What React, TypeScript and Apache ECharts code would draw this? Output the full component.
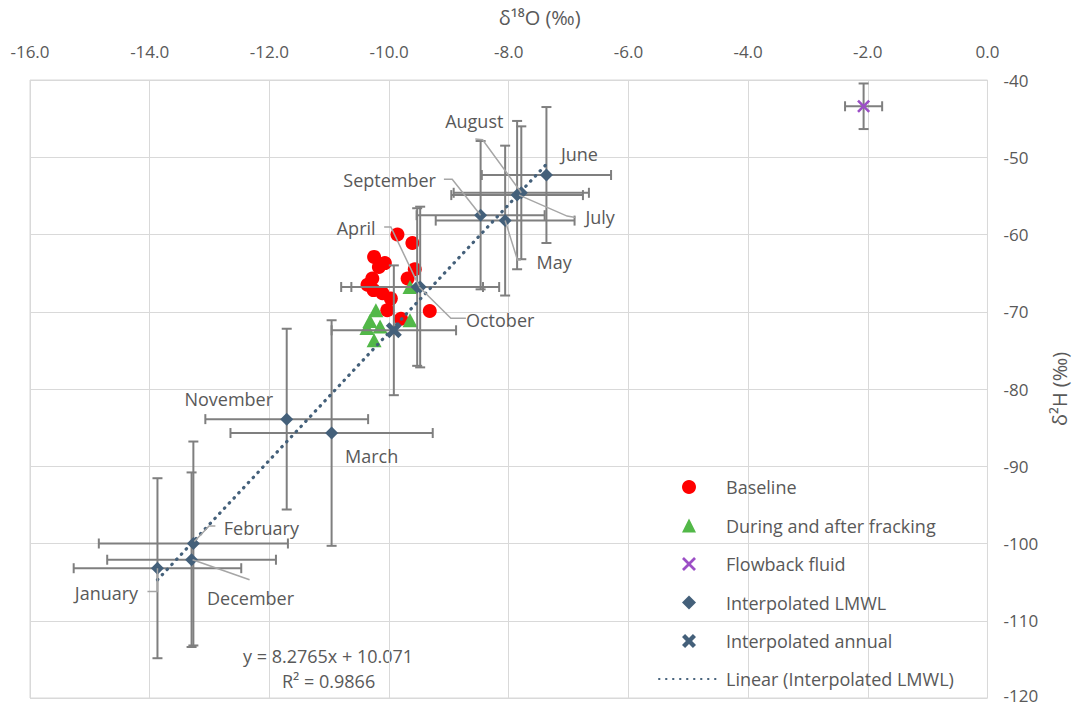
import React, { useEffect, useRef } from "react";
import * as echarts from "echarts";

// ---------- data ----------
const months = ["January", "February", "March", "April", "May", "June", "July", "August", "September", "October", "November", "December"];
const lmwlO18 = [-13.87, -13.27, -10.96, -9.48, -8.06, -7.37, -7.86, -7.79, -8.47, -9.53, -11.71, -13.30];
const lmwlH2 = [-103.2, -100.0, -85.7, -66.8, -58.2, -52.3, -54.9, -54.6, -57.5, -66.8, -83.9, -102.1];
const lmwlO18Err = [1.40, 1.58, 1.69, 1.32, 1.16, 1.08, 1.10, 1.13, 1.07, 1.10, 1.36, 1.41];
const lmwlH2Err = [11.65, 13.2, 14.6, 10.4, 9.7, 8.8, 9.6, 8.6, 9.6, 10.2, 11.7, 11.3];

const baselineO18 = [-9.86, -9.61, -10.25, -10.07, -10.17, -9.57, -9.69, -10.28, -10.36, -10.26, -10.11, -9.97, -10.03, -9.32, -9.80];
const baselineH2 = [-60.0, -61.1, -62.9, -63.7, -64.2, -64.5, -65.7, -65.7, -66.5, -67.2, -67.6, -68.3, -69.8, -69.9, -70.9];

const fracO18 = [-9.65, -10.22, -10.32, -10.15, -9.65, -10.25, -10.37];
const fracH2 = [-66.8, -69.8, -71.2, -71.9, -71.1, -73.7, -72.1];

const flowbackO18 = [-2.07];
const flowbackH2 = [-43.4];
const flowbackO18Err = [0.31];
const flowbackH2Err = [2.95];

const annualO18 = [-9.92];
const annualH2 = [-72.4];
const annualO18Err = [1.04];
const annualH2Err = [8.4];

const trendO18 = [-13.87, -7.37];
const trendH2 = [-104.7, -50.9];

const equationLines = ["y = 8.2765x + 10.071", "R² = 0.9866"];

// ---------- layout (pixel offsets of month labels from their points) ----------
const labelLayout: Record<string, { dx: number; dy: number; leader?: number[][] }> = {
  January: { dx: -51, dy: 25, leader: [[-10, 23.4], [0, 23.4], [0, 0]] },
  February: { dx: 68, dy: -16, leader: [[22, -17.6], [15.7, -17.6], [1, -2]] },
  March: { dx: 40, dy: 23 },
  April: { dx: -64, dy: -59, leader: [[-36, -60], [-29.3, -60], [-1, -0.7]] },
  May: { dx: 49, dy: 41, leader: [[15.7, 39.3], [12.3, 39.3], [0, 0]] },
  June: { dx: 33, dy: -21 },
  July: { dx: 83, dy: 22, leader: [[58.4, 22.3], [50, 21], [2, 0]] },
  August: { dx: -47, dy: -72, leader: [[-46, -53.7], [-38.7, -53], [0, 0]] },
  September: { dx: -91, dy: -35, leader: [[-36.7, -36], [-28.4, -36], [0, 0]] },
  October: { dx: 83, dy: 33, leader: [[48.7, 31.3], [33.7, 31.3], [2, 0]] },
  November: { dx: -58, dy: -20 },
  December: { dx: 59, dy: 38, leader: [[1, 0], [58, 20]] },
};

const FONT = '"Open Sans", "Noto Sans", sans-serif';
const TEXT = "#595959";
const SLATE = "#44607A";
const thickX = "path://M2.2,0 L5,2.8 L7.8,0 L10,2.2 L7.2,5 L10,7.8 L7.8,10 L5,7.2 L2.2,10 L0,7.8 L2.8,5 L0,2.2 Z";
const thinX = "path://M1.4,0 L5,3.6 L8.6,0 L10,1.4 L6.4,5 L10,8.6 L8.6,10 L5,6.4 L1.4,10 L0,8.6 L3.6,5 L0,1.4 Z";

export default function App() {
  const ref = useRef<HTMLDivElement>(null);

  useEffect(() => {
    if (!ref.current) return;
    const chart = echarts.init(ref.current, null, { renderer: "svg" });

    const errData: number[][] = [];
    lmwlO18.forEach((x, i) => errData.push([x, lmwlH2[i], lmwlO18Err[i], lmwlH2Err[i]]));
    annualO18.forEach((x, i) => errData.push([x, annualH2[i], annualO18Err[i], annualH2Err[i]]));
    flowbackO18.forEach((x, i) => errData.push([x, flowbackH2[i], flowbackO18Err[i], flowbackH2Err[i]]));

    const option: any = {
      animation: false,
      textStyle: { fontFamily: FONT },
      grid: { left: 30, right: 88, top: 80, bottom: 7, show: true, borderColor: "#D9D9D9", borderWidth: 1 },
      xAxis: {
        type: "value",
        position: "top",
        min: -16,
        max: 0,
        interval: 2,
        name: "δ¹⁸O (‰)",
        nameLocation: "middle",
        nameGap: 53,
        nameTextStyle: { color: TEXT, fontSize: 20, fontFamily: FONT, padding: [0, 0, 0, 62] },
        axisLine: { show: false },
        axisTick: { show: false },
        axisLabel: { color: TEXT, fontSize: 17, fontFamily: FONT, margin: 20, formatter: (v: number) => v.toFixed(1) },
        splitLine: { show: true, lineStyle: { color: "#D9D9D9", width: 1 } },
      },
      yAxis: {
        type: "value",
        position: "right",
        min: -120,
        max: -40,
        interval: 10,
        name: "δ²H (‰)",
        nameLocation: "middle",
        nameRotate: 90,
        nameGap: 52,
        nameTextStyle: { color: TEXT, fontSize: 20, fontFamily: FONT },
        axisLine: { show: false },
        axisTick: { show: false },
        axisLabel: {
          color: TEXT,
          fontSize: 17,
          fontFamily: FONT,
          margin: 16,
          formatter: (v: number) => (v === -120 ? `{last|${v}}` : `${v}`),
          rich: { last: { color: TEXT, fontSize: 17, fontFamily: FONT, padding: [0, 0, 6, 0] } },
        },
        splitLine: { show: true, lineStyle: { color: "#D9D9D9", width: 1 } },
      },
      legend: [
        {
          data: ["Baseline", "During and after fracking", "Flowback fluid", "Interpolated LMWL", "Interpolated annual"],
          orient: "vertical",
          left: 677,
          top: 473,
          itemWidth: 14,
          itemHeight: 14,
          itemGap: 20.5,
          textStyle: { color: TEXT, fontSize: 18, fontFamily: FONT, lineHeight: 18, padding: [0, 0, 0, 25] },
          selectedMode: false,
        },
        {
          data: ["Linear (Interpolated LMWL)"],
          orient: "vertical",
          left: 653,
          top: 665,
          itemWidth: 62,
          itemHeight: 14,
          itemStyle: { opacity: 0 },
          textStyle: { color: TEXT, fontSize: 18, fontFamily: FONT, lineHeight: 18 },
          selectedMode: false,
        },
      ],
      graphic: [
        {
          type: "text",
          left: 243,
          top: 647,
          style: { text: equationLines[0], fill: TEXT, fontSize: 18, fontFamily: FONT },
        },
        {
          type: "text",
          left: 282,
          top: 672,
          style: { text: equationLines[1], fill: TEXT, fontSize: 18, fontFamily: FONT },
        },
      ],
      series: [
        {
          name: "Baseline",
          type: "scatter",
          symbol: "circle",
          symbolSize: 14,
          itemStyle: { color: "#FF0000", opacity: 1 },
          data: baselineO18.map((x, i) => [x, baselineH2[i]]),
          z: 2,
        },
        {
          name: "During and after fracking",
          type: "scatter",
          symbol: "triangle",
          symbolSize: [15, 14],
          itemStyle: { color: "#52B848", opacity: 1 },
          data: fracO18.map((x, i) => [x, fracH2[i]]),
          z: 2,
        },
        {
          name: "errorbars",
          type: "custom",
          z: 3,
          silent: true,
          data: errData,
          encode: { x: 0, y: 1 },
          renderItem: (_params: any, api: any) => {
            const x = api.value(0);
            const y = api.value(1);
            const ex = api.value(2);
            const ey = api.value(3);
            const c = api.coord([x, y]);
            const l = api.coord([x - ex, y]);
            const r = api.coord([x + ex, y]);
            const t = api.coord([x, y + ey]);
            const b = api.coord([x, y - ey]);
            const s = { stroke: "#7F7F7F", lineWidth: 2 };
            const cap = 5;
            const ln = (x1: number, y1: number, x2: number, y2: number) => ({ type: "line", shape: { x1, y1, x2, y2 }, style: s });
            return {
              type: "group",
              children: [
                ln(l[0], c[1], r[0], c[1]),
                ln(l[0], c[1] - cap, l[0], c[1] + cap),
                ln(r[0], c[1] - cap, r[0], c[1] + cap),
                ln(c[0], t[1], c[0], b[1]),
                ln(c[0] - cap, t[1], c[0] + cap, t[1]),
                ln(c[0] - cap, b[1], c[0] + cap, b[1]),
              ],
            };
          },
        },
        {
          name: "Linear (Interpolated LMWL)",
          type: "line",
          showSymbol: false,
          symbol: "none",
          z: 4,
          data: trendO18.map((x, i) => [x, trendH2[i]]),
          lineStyle: { color: SLATE, width: 3.2, type: [0.5, 6.5], cap: "round" },
          itemStyle: { color: SLATE },
        },
        {
          name: "Interpolated LMWL",
          type: "scatter",
          symbol: "diamond",
          symbolSize: 13,
          itemStyle: { color: SLATE, opacity: 1 },
          data: lmwlO18.map((x, i) => [x, lmwlH2[i]]),
          z: 5,
        },
        {
          name: "Interpolated annual",
          type: "scatter",
          symbol: thickX,
          symbolSize: 16,
          itemStyle: { color: SLATE, opacity: 1 },
          data: annualO18.map((x, i) => [x, annualH2[i]]),
          z: 5,
        },
        {
          name: "Flowback fluid",
          type: "scatter",
          symbol: thinX,
          symbolSize: 13,
          itemStyle: { color: "#9C4FC6", opacity: 1 },
          data: flowbackO18.map((x, i) => [x, flowbackH2[i]]),
          z: 5,
        },
        {
          name: "monthLabels",
          type: "custom",
          z: 6,
          silent: true,
          data: lmwlO18.map((x, i) => [x, lmwlH2[i]]),
          encode: { x: 0, y: 1 },
          renderItem: (params: any, api: any) => {
            const i = params.dataIndex;
            const p = api.coord([api.value(0), api.value(1)]);
            const name = months[i];
            const L = labelLayout[name];
            const children: any[] = [];
            if (L.leader) {
              children.push({
                type: "polyline",
                shape: { points: L.leader.map(([dx, dy]) => [p[0] + dx, p[1] + dy]) },
                style: { stroke: "#A6A6A6", lineWidth: 1.5, fill: null },
              });
            }
            children.push({
              type: "text",
              style: {
                text: name,
                x: p[0] + L.dx,
                y: p[1] + L.dy,
                align: "center",
                verticalAlign: "middle",
                fill: TEXT,
                fontSize: 18,
                fontFamily: FONT,
              },
            });
            return { type: "group", children };
          },
        },
      ],
    };

    chart.setOption(option);
    return () => chart.dispose();
  }, []);

  return <div ref={ref} style={{ position: "absolute", left: 0, top: 0, width: 1077, height: 705 }} />;
}
